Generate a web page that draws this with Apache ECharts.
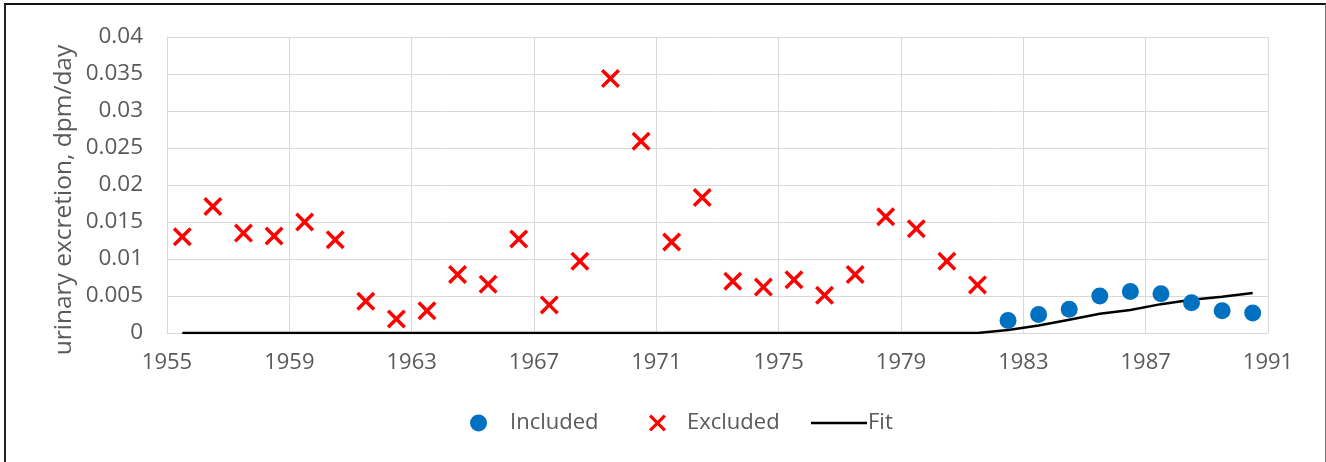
<!DOCTYPE html>
<html>
<head>
<meta charset="utf-8">
<script src="https://cdn.jsdelivr.net/npm/echarts@6/dist/echarts.min.js"></script>
<style>
html,body{margin:0;padding:0;background:#fff;}
#chart{width:1326px;height:462px;}
</style>
</head>
<body>
<div id="chart"></div>
<script>
// ---- data ----
const excludedYears = [1955.5,1956.5,1957.5,1958.5,1959.5,1960.5,1961.5,1962.5,1963.5,1964.5,1965.5,1966.5,1967.5,1968.5,1969.5,1970.5,1971.5,1972.5,1973.5,1974.5,1975.5,1976.5,1977.5,1978.5,1979.5,1980.5,1981.5];
const excludedValues = [0.0130,0.0171,0.0135,0.0131,0.0150,0.0126,0.0043,0.0019,0.0030,0.0079,0.0066,0.0127,0.0038,0.0097,0.0344,0.0259,0.0123,0.0183,0.0070,0.0062,0.0072,0.0051,0.0079,0.0157,0.0141,0.0097,0.0065];
const includedYears = [1982.5,1983.5,1984.5,1985.5,1986.5,1987.5,1988.5,1989.5,1990.5];
const includedValues = [0.0017,0.0025,0.0032,0.0050,0.0056,0.0053,0.0041,0.0030,0.0027];
const fitYears = [1955.5,1981.5,1982.5,1983.5,1984.5,1985.5,1986.5,1987.5,1988.5,1989.5,1990.5];
const fitValues = [0,0,0.0004,0.0010,0.0018,0.0026,0.0031,0.0039,0.0045,0.0049,0.0054];
const xTickYears = [1955,1959,1963,1967,1971,1975,1979,1983,1987,1991];
const yTickLabels = ['0','0.005','0.01','0.015','0.02','0.025','0.03','0.035','0.04'];
const yAxisTitle = 'urinary excretion, dpm/day';
const seriesNames = ['Included','Excluded','Fit'];

const zip = (xs, ys) => xs.map((x, i) => [x, ys[i]]);
const FONT = '"Open Sans", "Noto Sans", sans-serif';
const GRAY = '#595959';
const GRID = '#d9d9d9';
const X_PATH = 'path://M0,2.6 L2.6,0 L10,7.4 L17.4,0 L20,2.6 L12.6,10 L20,17.4 L17.4,20 L10,12.6 L2.6,20 L0,17.4 L7.4,10 Z';

const chart = echarts.init(document.getElementById('chart'), null, {renderer: 'canvas'});
chart.setOption({
  animation: false,
  backgroundColor: '#fff',
  grid: {left: 167, right: 58, top: 37, bottom: 129, containLabel: false},
  xAxis: {
    type: 'value', min: 1955, max: 1991, interval: 4,
    axisLine: {show: true, lineStyle: {color: GRID, width: 1}},
    axisTick: {show: false},
    splitLine: {show: true, lineStyle: {color: GRID, width: 1}},
    axisLabel: {
      color: GRAY, fontSize: 22, fontFamily: FONT, margin: 19,
      formatter: v => { const i = xTickYears.indexOf(Math.round(v)); return i >= 0 ? String(xTickYears[i]) : ''; }
    }
  },
  yAxis: {
    type: 'value', min: 0, max: 0.04, interval: 0.005,
    axisLine: {show: true, lineStyle: {color: GRID, width: 1}},
    axisTick: {show: false},
    splitLine: {show: true, lineStyle: {color: GRID, width: 1}},
    axisLabel: {
      color: GRAY, fontSize: 22.5, fontFamily: FONT, margin: 24,
      formatter: v => yTickLabels[Math.round(v / 0.005)]
    }
  },
  legend: [
    {data: [{name: seriesNames[0], icon: 'circle'}], left: 465, top: 407, itemWidth: 17, itemHeight: 17,
     textStyle: {color: GRAY, fontSize: 22, fontFamily: FONT, padding: [0, 0, 0, 18]}},
    {data: [{name: seriesNames[1], icon: X_PATH}], left: 644, top: 407, itemWidth: 17, itemHeight: 17,
     textStyle: {color: GRAY, fontSize: 22, fontFamily: FONT, padding: [0, 0, 0, 16]}},
    {data: [{name: seriesNames[2], icon: 'rect'}], left: 806, top: 407, itemWidth: 56, itemHeight: 2.5,
     itemStyle: {color: '#000'},
     textStyle: {color: GRAY, fontSize: 22, fontFamily: FONT, padding: [0, 0, 0, -4]}}
  ],
  graphic: [
    {type: 'text', x: 64, y: 200, rotation: Math.PI / 2,
     style: {text: yAxisTitle, fill: GRAY, font: '24.5px ' + FONT, align: 'center', verticalAlign: 'middle'}},
    {type: 'line', shape: {x1: 4, y1: 4, x2: 1326, y2: 4}, style: {stroke: '#111', lineWidth: 2}, silent: true},
    {type: 'line', shape: {x1: 5, y1: 4, x2: 5, y2: 462}, style: {stroke: '#222', lineWidth: 2}, silent: true},
    {type: 'line', shape: {x1: 1325.5, y1: 4, x2: 1325.5, y2: 462}, style: {stroke: '#777', lineWidth: 1}, silent: true}
  ],
  series: [
    {
      name: seriesNames[2], type: 'line', data: zip(fitYears, fitValues),
      showSymbol: false, symbol: 'none', z: 3,
      lineStyle: {color: '#000', width: 2.5}, itemStyle: {color: '#000'}
    },
    {
      name: seriesNames[0], type: 'scatter', data: zip(includedYears, includedValues),
      symbol: 'circle', symbolSize: 17, z: 4,
      itemStyle: {color: '#0070c0', opacity: 1}
    },
    {
      name: seriesNames[1], type: 'scatter', data: zip(excludedYears, excludedValues),
      symbol: X_PATH, symbolSize: 19, z: 4,
      itemStyle: {color: '#ff0000', opacity: 1}
    }
  ]
});
</script>
</body>
</html>
